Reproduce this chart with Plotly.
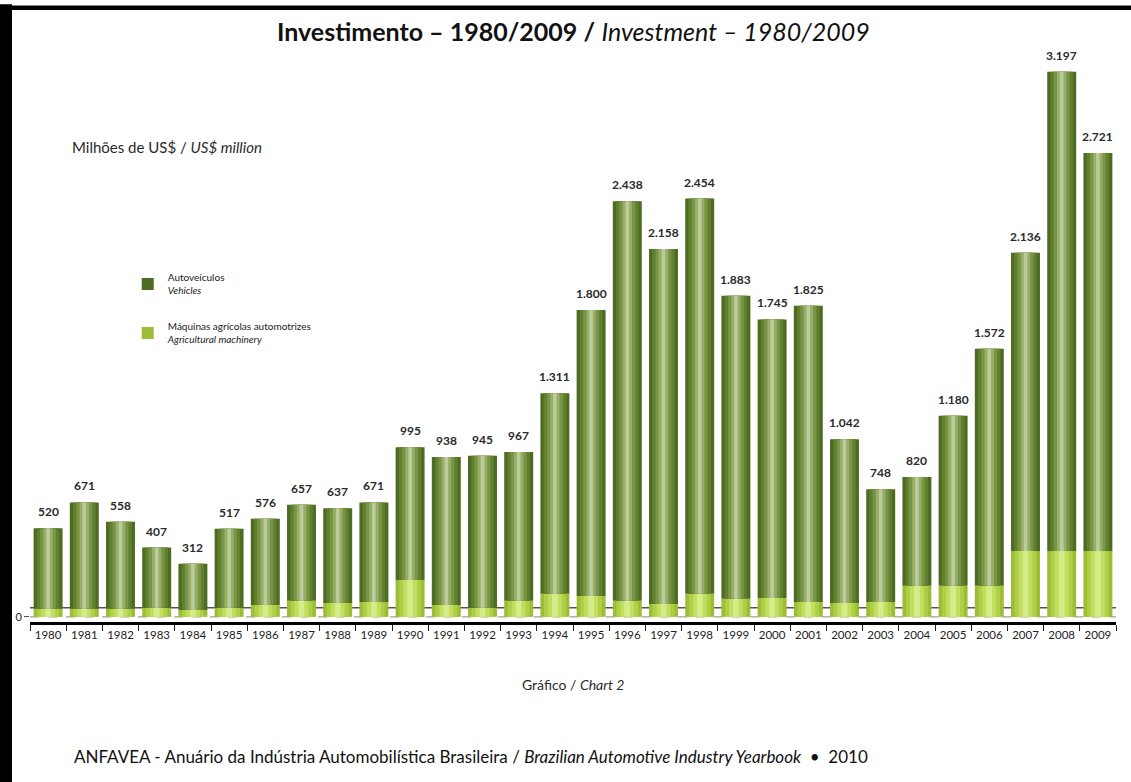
import plotly.graph_objects as go

years = ["1980", "1981", "1982", "1983", "1984", "1985", "1986", "1987", "1988", "1989",
         "1990", "1991", "1992", "1993", "1994", "1995", "1996", "1997", "1998", "1999",
         "2000", "2001", "2002", "2003", "2004", "2005", "2006", "2007", "2008", "2009"]
total = [520, 671, 558, 407, 312, 517, 576, 657, 637, 671,
         995, 938, 945, 967, 1311, 1800, 2438, 2158, 2454, 1883,
         1745, 1825, 1042, 748, 820, 1180, 1572, 2136, 3197, 2721]
agri = [47, 47, 47, 53, 41, 53, 70, 94, 82, 88,
        217, 70, 53, 94, 135, 123, 94, 76, 135, 106,
        111, 88, 82, 88, 182, 182, 182, 387, 387, 387]
vehicles = [t - a for t, a in zip(total, agri)]
labels = [f"{v:,}".replace(",", ".") for v in total]

FONT = "Lato, Roboto, sans-serif"

fig = go.Figure()

agri_w = [0.8, 0.6, 0.38, 0.16]
agri_c = ["#9dbd36", "#afcf46", "#c1de5e", "#d5ec8a"]
for i, (w, c) in enumerate(zip(agri_w, agri_c)):
    fig.add_trace(go.Bar(
        x=years, y=agri, width=w, marker=dict(color=c, line=dict(width=0)),
        name="Máquinas agrícolas automotrizes<br><i>Agricultural machinery</i>",
        showlegend=(i == 0), legendgroup="agri", legendrank=2, hoverinfo="skip"))

veh_w = [0.8, 0.62, 0.44, 0.26, 0.1]
veh_c = ["#4e6c21", "#617f2f", "#789545", "#96ae68", "#bccb9c"]
for i, (w, c) in enumerate(zip(veh_w, veh_c)):
    fig.add_trace(go.Bar(
        x=years, y=vehicles, base=agri, width=w, marker=dict(color=c, line=dict(width=0)),
        name="Autoveículos<br><i>Vehicles</i>",
        showlegend=(i == 0), legendgroup="veh", legendrank=1, hoverinfo="skip"))

for i, (t, lab) in enumerate(zip(total, labels)):
    fig.add_annotation(x=i, y=t, text=f"<b>{lab}</b>", showarrow=False,
                       yanchor="bottom", yshift=7, xref="x", yref="y",
                       font=dict(family=FONT, size=12, color="#2a2a2a"))

# titles and notes
fig.add_annotation(xref="paper", yref="paper", x=0.5, y=1, yshift=2, xanchor="center", yanchor="bottom",
                   text="<b>Investimento – 1980/2009 /</b> <i>Investment – 1980/2009</i>",
                   showarrow=False, font=dict(family=FONT, size=25, color="#111"))
fig.add_annotation(xref="paper", yref="paper", x=0.037, y=0.83, xanchor="left", yanchor="middle",
                   text="Milhões de US$ / <i>US$ million</i>", showarrow=False,
                   font=dict(family=FONT, size=15, color="#2a2a2a"))
fig.add_annotation(xref="paper", yref="paper", x=0.5, y=-0.11, xanchor="center", yanchor="middle",
                   text="Gráfico / <i>Chart 2</i>", showarrow=False,
                   font=dict(family=FONT, size=14, color="#2a2a2a"))
fig.add_annotation(xref="paper", yref="paper", x=0.039, y=-0.236, xanchor="left", yanchor="middle",
                   text="ANFAVEA - Anuário da Indústria Automobilística Brasileira / <i>Brazilian Automotive Industry Yearbook</i>  •  2010",
                   showarrow=False, font=dict(family=FONT, size=17, color="#111"))

# floor lines
fig.add_hline(y=53, line=dict(color="#555", width=1.5), layer="below")
fig.add_hline(y=0, line=dict(color="#888", width=1, dash="dash"), layer="below")

# page border (left and top)
fig.add_shape(type="rect", xref="paper", yref="paper", x0=-0.0277, x1=-0.0166, y0=-0.28, y1=1.08,
              fillcolor="black", line=dict(width=0), layer="above")
fig.add_shape(type="rect", xref="paper", yref="paper", x0=-0.0277, x1=1.014, y0=1.0698, y1=1.078,
              fillcolor="black", line=dict(width=0), layer="above")

fig.update_layout(
    width=1131, height=782,
    margin=dict(l=30, r=15, t=50, b=160),
    barmode="overlay",
    plot_bgcolor="white", paper_bgcolor="white",
    font=dict(family=FONT, size=12, color="#222"),
    showlegend=True,
    legend=dict(x=0.09, y=0.625, xanchor="left", yanchor="top", bgcolor="rgba(0,0,0,0)",
                font=dict(family=FONT, size=10, color="#222"), tracegroupgap=20,
                itemwidth=30),
    xaxis=dict(type="category", categoryorder="array", categoryarray=years,
               range=[-0.5, 29.5], showline=True, linecolor="black", linewidth=3,
               ticks="outside", tickson="boundaries", ticklen=6, tickcolor="#222",
               tickangle=0,
               tickfont=dict(family=FONT, size=11.5, color="#222"), showgrid=False),
    yaxis=dict(range=[-30, 3325], tickvals=[0], ticktext=["0"], showgrid=False,
               zeroline=False, ticks="outside", ticklen=5, tickcolor="#555",
               tickfont=dict(family=FONT, size=11, color="#222"), showline=False),
)

fig.write_html("out.html")
